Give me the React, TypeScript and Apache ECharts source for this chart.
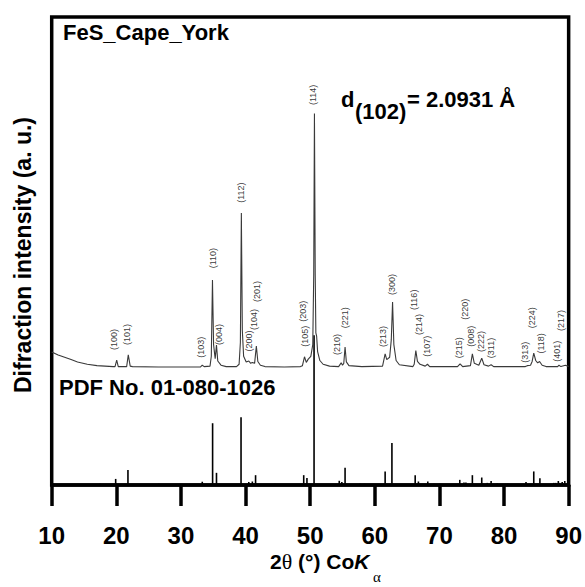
import React, { useEffect, useRef } from "react";
import * as echarts from "echarts";

// Measured XRD pattern (2θ, intensity a.u., offset stacked above the reference)
const measuredX = [
  10, 11, 12, 13, 14, 15.5, 17, 19.5, 19.8, 20.06, 20.3, 21.6, 21.85, 22.15, 22.5,
  26.5, 30, 33.0, 33.3, 33.6, 34.5, 34.7, 34.88, 35.05, 35.3, 35.5, 35.7, 36.2, 37, 38.6,
  39.0, 39.2, 39.35, 39.5, 39.7, 40.1, 40.5, 40.8, 41.05, 41.4, 41.67, 41.9, 42.3, 43, 46, 48.5,
  48.8, 49.12, 49.4, 49.7, 50.1, 50.4, 50.55, 50.66, 50.78, 50.88, 51.0, 51.15, 51.5, 52.0, 53, 54.4,
  54.8, 55.0, 55.2, 55.4, 55.6, 56.0, 58, 61.2,
  61.6, 61.85, 62.3, 62.55, 62.75, 62.95, 63.3, 63.8, 65.9,
  66.1, 66.35, 66.6, 67.0, 67.8, 68.15, 68.5, 72.8, 73.2, 73.6,
  74.8, 75.1, 75.4, 76.1, 76.55, 76.9, 77.6, 78.0, 78.4, 83.3, 83.6, 84.1, 84.35, 84.6, 84.9,
  85.2, 85.5, 85.9, 86.5, 88.3, 88.5, 88.8, 89.5, 90,
];
const measuredY = [
  28.4, 27.8, 27.3, 26.8, 26.3, 25.8, 25.5, 25.3, 25.3, 26.7, 25.3, 25.3, 27.8, 25.4, 25.3,
  25.2, 25.2, 25.2, 25.6, 25.3, 25.4, 27.5, 43.8, 30.0, 27.0, 29.9, 26.5, 25.6, 25.3, 25.3,
  25.8, 30.5, 58.1, 33.0, 27.5, 26.3, 26.5, 26.0, 26.2, 26.0, 29.7, 26.4, 25.6, 25.3, 25.2, 25.3,
  25.5, 27.4, 26.2, 26.9, 27.5, 30.0, 45.0, 79.4, 45.0, 32.5, 31.8, 28.5, 26.6, 25.8, 25.4, 25.3,
  26.1, 25.6, 26.0, 29.5, 26.3, 25.5, 25.3, 25.4,
  28.0, 26.8, 27.3, 31.0, 39.1, 30.0, 26.6, 25.7, 25.3,
  25.8, 28.7, 26.4, 25.8, 25.4, 25.8, 25.3, 25.3, 25.9, 25.3,
  25.5, 28.0, 26.0, 25.6, 27.1, 25.7, 25.4, 25.7, 25.3, 25.3, 25.5, 25.6, 26.4, 28.2, 26.6,
  26.1, 26.4, 25.6, 25.3, 25.3, 25.6, 25.3, 25.6, 25.3,
];

// Reference pattern PDF No. 01-080-1026 (stick positions and heights)
const pdfX = [
  17.5, 19.9, 21.8, 26.6, 33.3, 34.9, 35.5, 39.3, 40.5, 41.05, 41.55, 44.5, 49.0, 49.5, 50.6,
  54.5, 54.9, 55.4, 57.7, 58.4, 61.6, 62.65, 66.25, 66.75, 68.2, 69.2, 70.0, 73.15, 73.8, 74.1,
  75.1, 76.55, 77.4, 78.0, 78.95, 80.25, 80.6, 83.4, 84.6, 85.55, 87.7, 88.0, 88.4, 88.6, 89.0, 89.4,
];
const pdfY = [
  0.25, 1.3, 3.2, 0.25, 0.7, 13.2, 2.6, 14.5, 0.65, 0.75, 2.1, 0.25, 2.1, 1.5, 32,
  0.9, 0.65, 3.7, 0.25, 0.25, 2.9, 9.0, 2.1, 0.75, 0.75, 0.25, 0.25, 1.1, 0.55, 0.55,
  2.1, 1.6, 0.45, 0.85, 0.3, 0.25, 0.25, 0.65, 2.9, 1.45, 0.45, 0.45, 0.85, 0.45, 0.65, 0.85,
];

// Miller index labels
const hklText = [
  "(100)", "(101)", "(103)", "(110)", "(004)", "(112)", "(200)", "(104)", "(201)", "(105)",
  "(203)", "(114)", "(210)", "(221)", "(213)", "(300)", "(116)", "(214)", "(107)", "(215)",
  "(220)", "(008)", "(222)", "(311)", "(313)", "(224)", "(118)", "(401)", "(217)",
];
const hklX = [
  19.69, 21.7, 33.18, 34.97, 35.85, 39.35, 40.52, 41.25, 41.76, 49.27,
  48.86, 50.4, 54.1, 55.4, 61.31, 62.65, 66.1, 66.87, 68.15, 73.04,
  73.92, 74.94, 76.39, 78.02, 83.22, 84.35, 85.65, 88.21, 88.89,
];
const hklY = [
  28.85, 29.9, 27.2, 46.3, 29.9, 60.3, 28.5, 33.1, 39.1, 29.55,
  34.9, 81.2, 27.8, 33.5, 29.5, 40.6, 37.4, 32.05, 27.4, 27.1,
  35.3, 29.55, 28.4, 27.1, 26.1, 33.5, 28.1, 26.35, 32.9,
];

const xTickValues = [10, 20, 30, 40, 50, 60, 70, 80, 90];

const SANS = 'Arial, "Liberation Sans", sans-serif';
const SERIF = '"Times New Roman", "Liberation Serif", serif';

export default function App() {
  const ref = useRef<HTMLDivElement>(null);
  useEffect(() => {
    document.body.style.margin = "0";
    if (!ref.current) return;
    const chart = echarts.init(ref.current, undefined, { renderer: "svg" });
    const measured = measuredX.map((x, i) => [x, measuredY[i]]);
    const sticks = pdfX.map((x, i) => [x, pdfY[i]]);
    const labels = hklText.map((t, i) => ({ value: [hklX[i], hklY[i]], name: t }));
    chart.setOption({
      animation: false,
      backgroundColor: "#fff",
      grid: {
        left: 51.7,
        right: 14.7,
        top: 17,
        bottom: 102,
        show: true,
        borderColor: "#000",
        borderWidth: 3.5,
        backgroundColor: "transparent",
      },
      xAxis: {
        type: "value",
        min: 10,
        max: 90,
        interval: 10,
        axisLine: { show: true, lineStyle: { color: "#000", width: 3.5 } },
        axisTick: { show: true, inside: false, length: 21, lineStyle: { color: "#000", width: 3.5 } },
        axisLabel: {
          show: true,
          color: "#000",
          fontFamily: SANS,
          fontWeight: "bold",
          fontSize: 24,
          margin: 38,
          formatter: (v: number) => (xTickValues.includes(v) ? String(v) : ""),
        },
        splitLine: { show: false },
      },
      yAxis: {
        type: "value",
        min: 0,
        max: 100,
        axisLine: { show: false },
        axisTick: { show: false },
        axisLabel: { show: false },
        splitLine: { show: false },
      },
      series: [
        {
          type: "custom",
          name: "PDF 01-080-1026",
          data: sticks,
          encode: { x: 0, y: 1 },
          silent: true,
          renderItem: (params: any, api: any) => {
            const x = api.value(0);
            const h = api.value(1);
            const p0 = api.coord([x, 0]);
            const p1 = api.coord([x, h]);
            return {
              type: "line",
              shape: { x1: p0[0], y1: p0[1], x2: p1[0], y2: p1[1] },
              style: { stroke: "#000", lineWidth: 1.6 },
            };
          },
          z: 2,
        },
        {
          type: "line",
          name: "FeS_Cape_York",
          data: measured,
          showSymbol: false,
          symbol: "none",
          silent: true,
          lineStyle: { color: "#3a3a3a", width: 1.1 },
          z: 3,
        },
        {
          type: "scatter",
          name: "hkl",
          data: labels,
          symbolSize: 0,
          silent: true,
          label: {
            show: true,
            formatter: "{b}",
            position: "inside",
            rotate: 90,
            align: "left",
            verticalAlign: "middle",
            fontFamily: SANS,
            fontSize: 9,
            color: "#000",
          },
          z: 4,
        },
      ],
      graphic: [
        {
          type: "text",
          left: 63,
          top: 21,
          style: { text: "FeS_Cape_York", font: `bold 22px ${SANS}`, fill: "#000" },
        },
        {
          type: "text",
          left: 59,
          top: 376,
          style: { text: "PDF No. 01-080-1026", font: `bold 22px ${SANS}`, fill: "#000" },
        },
        {
          type: "text",
          x: 341,
          y: 110,
          style: { text: "d", font: `bold 22px ${SANS}`, fill: "#000", verticalAlign: "bottom" },
        },
        {
          type: "text",
          x: 355,
          y: 122,
          style: { text: "(102)", font: `bold 22px ${SANS}`, fill: "#000", verticalAlign: "bottom" },
        },
        {
          type: "text",
          x: 407,
          y: 110,
          style: { text: "= 2.0931 Å", font: `bold 22px ${SANS}`, fill: "#000", verticalAlign: "bottom" },
        },
        {
          type: "text",
          x: 23,
          y: 255,
          rotation: Math.PI / 2,
          style: {
            text: "Difraction intensity (a. u.)",
            font: `bold 23px ${SANS}`,
            fill: "#000",
            align: "center",
            verticalAlign: "middle",
          },
        },
        {
          type: "text",
          x: 270,
          y: 561,
          style: {
            text: "{n|2}{s|θ}{n| (°) Co}{i|K}",
            verticalAlign: "middle",
            rich: {
              n: { fontFamily: SANS, fontWeight: "bold", fontSize: 21, fill: "#000", color: "#000" },
              s: { fontFamily: SERIF, fontSize: 22, fill: "#000", color: "#000" },
              i: { fontFamily: SANS, fontWeight: "bold", fontStyle: "italic", fontSize: 21, fill: "#000", color: "#000" },
            },
          },
        },
        {
          type: "text",
          x: 377,
          y: 577,
          style: { text: "α", font: `15px ${SERIF}`, fill: "#000", align: "center", verticalAlign: "middle" },
        },
      ],
    });
    return () => chart.dispose();
  }, []);
  return <div ref={ref} style={{ width: 585, height: 587 }} />;
}
